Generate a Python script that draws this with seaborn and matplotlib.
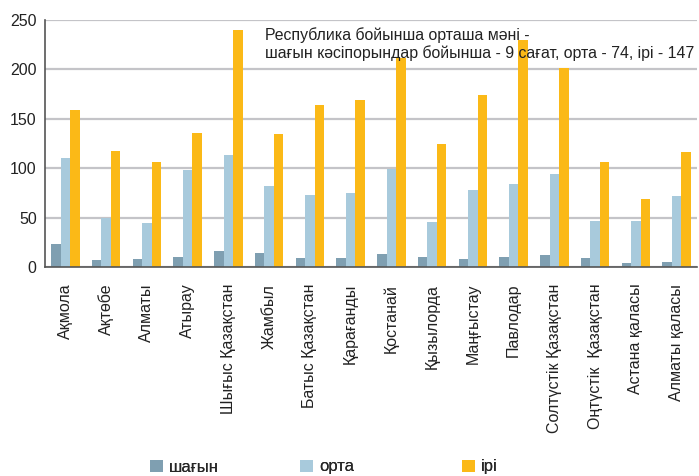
import pandas as pd
import matplotlib.pyplot as plt
import seaborn as sns
from matplotlib.patches import Patch

# Regions (x axis categories)
regions = ["Ақмола", "Ақтөбе", "Алматы", "Атырау", "Шығыс Қазақстан", "Жамбыл",
           "Батыс Қазақстан", "Қарағанды", "Қостанай", "Қызылорда", "Маңғыстау",
           "Павлодар", "Солтүстік Қазақстан", "Оңтүстік  Қазақстан",
           "Астана қаласы", "Алматы қаласы"]

# Values per enterprise size
small = [23, 7, 8, 10, 16, 14, 9, 9, 13, 10, 8, 10, 12, 9, 4, 5]
medium = [110, 50, 45, 98, 113, 82, 73, 75, 99, 46, 78, 84, 94, 47, 47, 72]
large = [159, 117, 106, 136, 240, 135, 164, 169, 212, 124, 174, 230, 201, 106, 69, 116]

series_names = ["шағын", "орта", "ірі"]
colors = ["#7f9fb1", "#a8cadc", "#fbb917"]

rows = []
for name, vals in zip(series_names, [small, medium, large]):
    for reg, v in zip(regions, vals):
        rows.append({"Region": reg, "Size": name, "Value": v})
df = pd.DataFrame(rows)

sns.set_style("white")
plt.rcParams['font.family'] = ['Liberation Sans', 'DejaVu Sans']

fig = plt.figure(figsize=(6.99, 4.76), dpi=100)
ax = fig.add_axes([45 / 699, 1 - 267 / 476, 652 / 699, 247 / 476])

sns.barplot(data=df, x="Region", y="Value", hue="Size", palette=colors,
            width=0.7, gap=0, saturation=1, linewidth=0, ax=ax, legend=False)

ax.set_ylim(0, 250)
ax.set_xlim(-0.5, len(regions) - 0.5)
ax.set_yticks([0, 50, 100, 150, 200, 250])
ax.yaxis.grid(True, color="#c4c4c8", linewidth=1.6)
ax.set_axisbelow(True)
ax.set_xlabel("")
ax.set_ylabel("")

for s in ["top", "right"]:
    ax.spines[s].set_visible(False)
for s in ["left", "bottom"]:
    ax.spines[s].set_color("#555555")
    ax.spines[s].set_linewidth(1.2)

ax.tick_params(axis="y", labelsize=11.5, length=4, color="#555555", labelcolor="#222222", pad=2)
ax.set_xticks(range(len(regions)))
ax.set_xticklabels(regions, rotation=90, fontsize=11.5, color="#222222", va="top")
ax.tick_params(axis="x", which="major", length=0, pad=12)
ax.set_xticks([i - 0.5 for i in range(len(regions) + 1)], minor=True)
ax.tick_params(axis="x", which="minor", length=5, color="#555555")

fig.text(265 / 699, 1 - 27 / 476,
         "Республика бойынша орташа мәні -\n"
         "шағын кәсіпорындар бойынша - 9 сағат, орта - 74, ірі - 147",
         ha="left", va="top", fontsize=11.4, color="#222222", linespacing=1.2)

# one legend entry per spot, as in the reference
legend_x = [145, 295, 457]
for c, n, lx in zip(colors, series_names, legend_x):
    leg = fig.legend(handles=[Patch(facecolor=c, edgecolor="none", label=n)],
                     loc="center left", bbox_to_anchor=(lx / 699, 1 - 467 / 476),
                     frameon=False, fontsize=12, handlelength=0.75, handleheight=0.75,
                     handletextpad=0.4, borderpad=0, borderaxespad=0.3)
    fig.add_artist(leg)

fig.savefig("out.png", dpi=100)
